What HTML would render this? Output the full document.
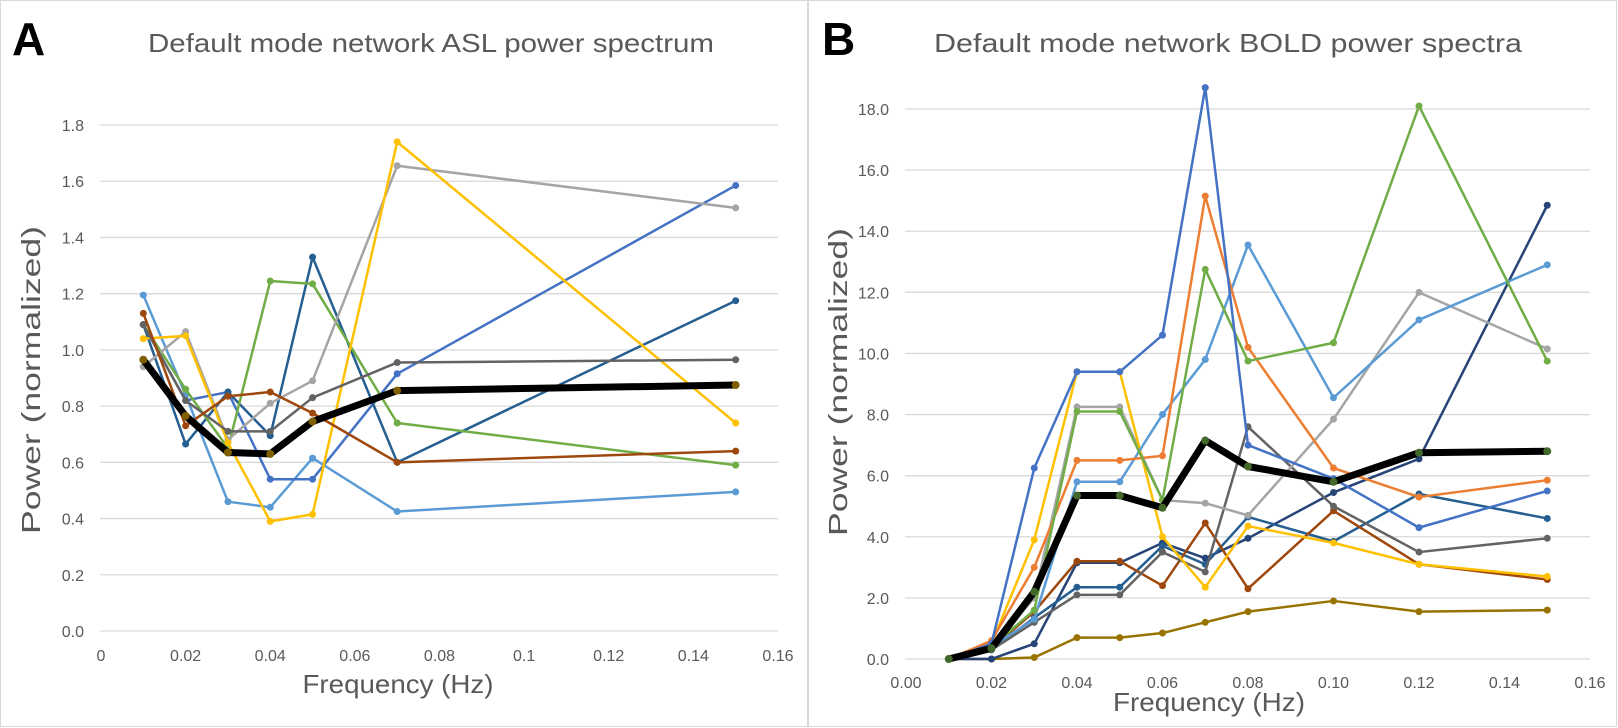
<!DOCTYPE html>
<html><head><meta charset="utf-8"><style>
body{margin:0;background:#fff;}
svg{display:block;font-family:"Liberation Sans",sans-serif;}
</style></head><body>
<svg id="fig" width="1618" height="728" viewBox="0 0 1618 728">
<rect x="0.5" y="0.5" width="807" height="726" fill="#fff" stroke="#d9d9d9"/>
<rect x="808.5" y="0.5" width="808" height="726" fill="#fff" stroke="#d9d9d9"/>
<text x="12" y="55" font-size="46" font-weight="bold" fill="#000">A</text>
<text x="822" y="55" font-size="46" font-weight="bold" fill="#000">B</text>
<text x="148" y="52" font-size="26" fill="#595959" textLength="566" lengthAdjust="spacingAndGlyphs">Default mode network ASL power spectrum</text>
<text x="934" y="52" font-size="26" fill="#595959" textLength="588" lengthAdjust="spacingAndGlyphs">Default mode network BOLD power spectra</text>
<text transform="translate(40,380) rotate(-90)" text-anchor="middle" font-size="26" fill="#595959" textLength="308" lengthAdjust="spacingAndGlyphs">Power (normalized)</text>
<text transform="translate(847,382) rotate(-90)" text-anchor="middle" font-size="26" fill="#595959" textLength="308" lengthAdjust="spacingAndGlyphs">Power (normalized)</text>
<text x="398" y="693" text-anchor="middle" font-size="26" fill="#595959" textLength="191" lengthAdjust="spacingAndGlyphs">Frequency (Hz)</text>
<text x="1209" y="711" text-anchor="middle" font-size="26" fill="#595959" textLength="192" lengthAdjust="spacingAndGlyphs">Frequency (Hz)</text>
<g id="ga"></g>
<g id="gb"></g>
</svg>
<script>
const aX = [0.01,0.02,0.03,0.04,0.05,0.07,0.15];
const aYTicks = [0,0.2,0.4,0.6,0.8,1.0,1.2,1.4,1.6,1.8];
const aYTickLabels = ["0.0","0.2","0.4","0.6","0.8","1.0","1.2","1.4","1.6","1.8"];
const aXTicks = [0,0.02,0.04,0.06,0.08,0.1,0.12,0.14,0.16];
const aXTickLabels = ["0","0.02","0.04","0.06","0.08","0.1","0.12","0.14","0.16"];
const aLightBlue = [1.195,0.84,0.46,0.44,0.615,0.425,0.495];
const aBlue = [1.09,0.82,0.85,0.54,0.54,0.915,1.585];
const aDarkBlue = [1.09,0.665,0.85,0.695,1.33,0.60,1.175];
const aGreen = [1.09,0.86,0.65,1.245,1.235,0.74,0.59];
const aLightGray = [0.94,1.065,0.68,0.81,0.89,1.655,1.505];
const aYellow = [1.04,1.05,0.67,0.39,0.415,1.74,0.74];
const aDarkGray = [1.09,0.82,0.71,0.71,0.83,0.955,0.965];
const aBrown = [1.13,0.73,0.835,0.85,0.775,0.60,0.64];
const aMean = [0.965,0.765,0.635,0.63,0.745,0.855,0.875];

const bX = [0.01,0.02,0.03,0.04,0.05,0.06,0.07,0.08,0.10,0.12,0.15];
const bYTicks = [0,2,4,6,8,10,12,14,16,18];
const bYTickLabels = ["0.0","2.0","4.0","6.0","8.0","10.0","12.0","14.0","16.0","18.0"];
const bXTicks = [0,0.02,0.04,0.06,0.08,0.10,0.12,0.14,0.16];
const bXTickLabels = ["0.00","0.02","0.04","0.06","0.08","0.10","0.12","0.14","0.16"];
const bOlive = [0,0,0.05,0.7,0.7,0.85,1.2,1.55,1.9,1.55,1.6];
const bNavy = [0,0,0.5,3.15,3.15,3.8,3.3,3.95,5.45,6.55,14.85];
const bDarkBlue = [0,0.3,1.35,2.35,2.35,3.7,3.1,4.65,3.85,5.4,4.6];
const bBrown = [0,0.35,1.55,3.2,3.2,2.4,4.45,2.3,4.85,3.1,2.6];
const bDarkGray = [0,0.3,1.2,2.1,2.1,3.5,2.85,7.6,5.0,3.5,3.95];
const bLightGray = [0,0.4,2.0,8.25,8.25,5.2,5.1,4.7,7.85,12.0,10.15];
const bYellow = [0,0.5,3.9,9.4,9.4,4.0,2.35,4.35,3.8,3.1,2.7];
const bLightBlue = [0,0.4,1.3,5.8,5.8,8.0,9.8,13.55,8.55,11.1,12.9];
const bOrange = [0,0.6,3.0,6.5,6.5,6.65,15.15,10.2,6.25,5.3,5.85];
const bGreen = [0,0.4,1.6,8.1,8.1,5.2,12.75,9.75,10.35,18.1,9.75];
const bBlue = [0,0.5,6.25,9.4,9.4,10.6,18.7,7.0,5.9,4.3,5.5];
const bMean = [0,0.35,2.2,5.35,5.35,4.95,7.15,6.3,5.8,6.75,6.8];

const NS="http://www.w3.org/2000/svg";
function mk(tag,attrs,parent){const e=document.createElementNS(NS,tag);for(const k in attrs)e.setAttribute(k,attrs[k]);parent.appendChild(e);return e;}

function panel(g,cfg){
  const sx=v=>cfg.x0+(v-cfg.xmin)/(cfg.xmax-cfg.xmin)*(cfg.x1-cfg.x0);
  const sy=v=>cfg.y0-(v-cfg.ymin)/(cfg.ymax-cfg.ymin)*(cfg.y0-cfg.y1);
  cfg.yTicks.forEach((t,i)=>{
    const l=mk('line',{x1:cfg.x0-1,x2:cfg.x1,y1:sy(t),y2:sy(t),stroke:'#d9d9d9','stroke-width':1.3},g);
    
    
    const tx=mk('text',{x:cfg.ylabX,y:sy(t)+6,'text-anchor':'end','font-size':16,fill:'#595959'},g);
    tx.textContent=cfg.yLabels[i];
    
    
  });
  cfg.xTicks.forEach((t,i)=>{
    const tx=mk('text',{x:sx(t),y:cfg.xlabY,'text-anchor':'middle','font-size':16,fill:'#595959'},g);
    tx.textContent=cfg.xLabels[i];
    
    
  });
  cfg.series.forEach(s=>{
    const pts=s.v.map((v,i)=>sx(cfg.xs[i])+','+sy(v)).join(' ');
    const pl=mk('polyline',{points:pts,fill:'none',stroke:s.c,'stroke-width':s.w,'stroke-linejoin':'round'},g);
    
    
    s.v.forEach((v,i)=>{
      const c=mk('circle',{cx:sx(cfg.xs[i]),cy:sy(v),r:s.r,fill:s.m||s.c},g);
      
      
    });
  });
}

panel(document.getElementById('ga'),{
  x0:101,x1:778,xmin:0,xmax:0.16,y0:631,y1:125,ymin:0,ymax:1.8,
  yTicks:aYTicks,yLabels:aYTickLabels,xTicks:aXTicks,xLabels:aXTickLabels,
  ylabX:84,xlabY:661,xs:aX,
  series:[
    {n:'series-light-blue',v:aLightBlue,c:'#5B9BD5',w:2.5,r:3.5},
    {n:'series-blue',v:aBlue,c:'#4472C4',w:2.5,r:3.5},
    {n:'series-dark-blue',v:aDarkBlue,c:'#255E91',w:2.5,r:3.5},
    {n:'series-green',v:aGreen,c:'#70AD47',w:2.5,r:3.5},
    {n:'series-light-gray',v:aLightGray,c:'#A5A5A5',w:2.5,r:3.5},
    {n:'series-yellow',v:aYellow,c:'#FFC000',w:2.5,r:3.5},
    {n:'series-dark-gray',v:aDarkGray,c:'#636363',w:2.5,r:3.5},
    {n:'series-brown',v:aBrown,c:'#9E480E',w:2.5,r:3.5},
    {n:'series-mean',v:aMean,c:'#000',w:7,r:4,m:'#7f6000'}
  ]
});
panel(document.getElementById('gb'),{
  x0:906,x1:1590,xmin:0,xmax:0.16,y0:659,y1:109,ymin:0,ymax:18,
  yTicks:bYTicks,yLabels:bYTickLabels,xTicks:bXTicks,xLabels:bXTickLabels,
  ylabX:889,xlabY:688,xs:bX,
  series:[
    {n:'series-olive',v:bOlive,c:'#997300',w:2.5,r:3.5},
    {n:'series-navy',v:bNavy,c:'#264478',w:2.5,r:3.5},
    {n:'series-dark-blue',v:bDarkBlue,c:'#255E91',w:2.5,r:3.5},
    {n:'series-brown',v:bBrown,c:'#9E480E',w:2.5,r:3.5},
    {n:'series-dark-gray',v:bDarkGray,c:'#636363',w:2.5,r:3.5},
    {n:'series-light-gray',v:bLightGray,c:'#A5A5A5',w:2.5,r:3.5},
    {n:'series-yellow',v:bYellow,c:'#FFC000',w:2.5,r:3.5},
    {n:'series-light-blue',v:bLightBlue,c:'#5B9BD5',w:2.5,r:3.5},
    {n:'series-orange',v:bOrange,c:'#ED7D31',w:2.5,r:3.5},
    {n:'series-green',v:bGreen,c:'#70AD47',w:2.5,r:3.5},
    {n:'series-blue',v:bBlue,c:'#4472C4',w:2.5,r:3.5},
    {n:'series-mean',v:bMean,c:'#000',w:7,r:4,m:'#43682B'}
  ]
});
</script>
</body></html>
